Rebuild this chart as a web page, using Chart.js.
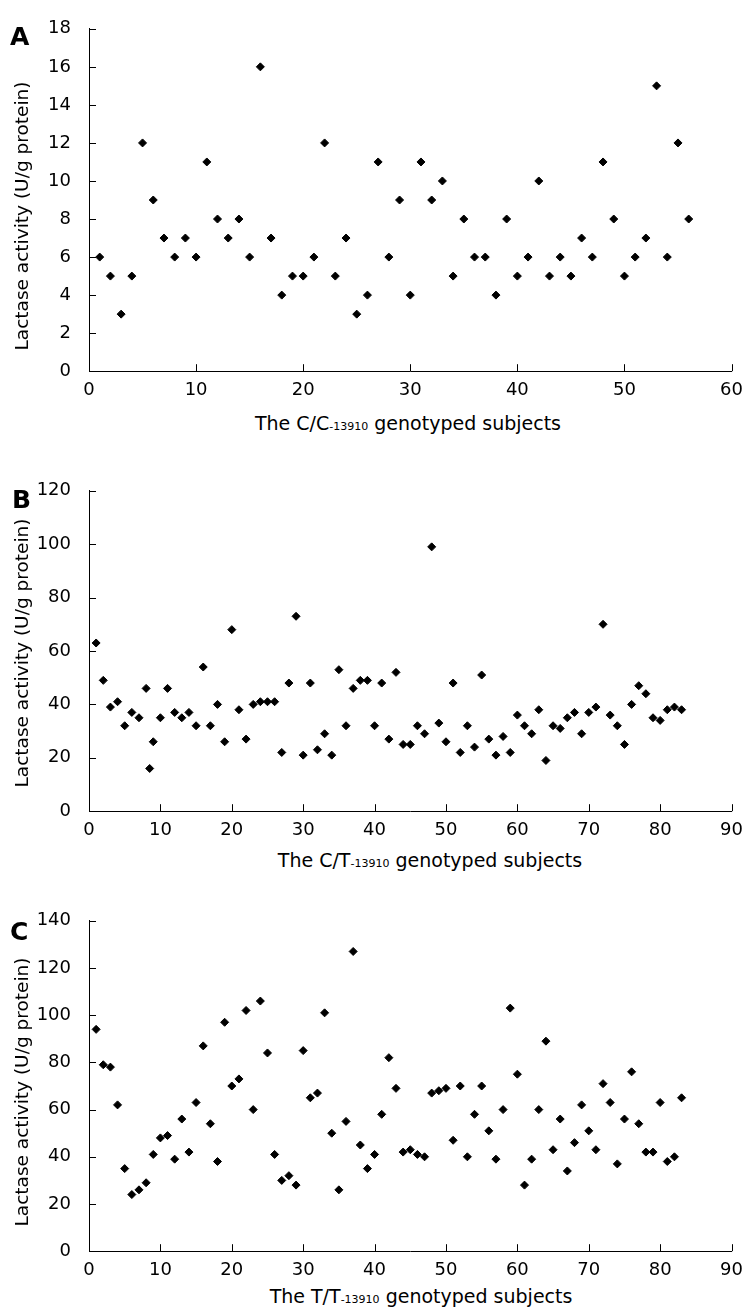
<!DOCTYPE html>
<html lang="en">
<head>
    <meta charset="UTF-8">
    <title>Lactase activity by LCT-13910 genotype</title>
    <script src="https://cdn.jsdelivr.net/npm/chart.js"></script>
    <style>
        body { margin: 0; background: #fff; }
        #page { position: relative; width: 751px; height: 1313px; font-family: "DejaVu Sans", sans-serif; color: #000; }
        canvas { position: absolute; left: 0; }
        .letter { position: absolute; font-weight: bold; font-size: 25px; line-height: 25px; }
        .ytitle { position: absolute; left: 22px; font-size: 18.5px; line-height: 1; white-space: nowrap; transform: translate(-50%, -50%) rotate(-90deg); }
        .xtitle { position: absolute; font-size: 19px; line-height: 19px; white-space: nowrap; transform: translateX(-50%); }
        .xtitle span { font-size: 11px; }
    </style>
</head>
<body>
<div id="page">
    <canvas id="chartA" width="751" height="400" style="top:0px"></canvas>
    <canvas id="chartB" width="751" height="378" style="top:462px"></canvas>
    <canvas id="chartC" width="751" height="388" style="top:892px"></canvas>

    <div class="letter" style="left:10px; top:24px">A</div>
    <div class="letter" style="left:12px; top:487px">B</div>
    <div class="letter" style="left:10px; top:919px">C</div>

    <div class="ytitle" style="top:216px">Lactase activity (U/g protein)</div>
    <div class="ytitle" style="top:653px">Lactase activity (U/g protein)</div>
    <div class="ytitle" style="top:1092px">Lactase activity (U/g protein)</div>

    <div class="xtitle" style="left:408px; top:414px">The C/C<span>-13910</span> genotyped subjects</div>
    <div class="xtitle" style="left:430px; top:851px">The C/T<span>-13910</span> genotyped subjects</div>
    <div class="xtitle" style="left:421px; top:1287px">The T/T<span>-13910</span> genotyped subjects</div>
</div>

<script>
    // panel A: C/C-13910 subjects
    const subjectsA = [1,2,3,4,5,6,7,8,9,10,11,12,13,14,15,16,17,18,19,20,21,22,23,24,25,26,27,28,29,30,
        31,32,33,34,35,36,37,38,39,40,41,42,43,44,45,46,47,48,49,50,51,52,53,54,55,56];
    const activityA = [6,5,3,5,12,9,7,6,7,6, 11,8,7,8,6,16,7,4,5,5, 6,12,5,7,3,4,11,6,9,4,
        11,9,10,5,8,6,6,4,8,5, 6,10,5,6,5,7,6,11,8,5, 6,7,15,6,12,8];

    // panel B: C/T-13910 subjects (two points sit between 8 and 10)
    const subjectsB = [1,2,3,4,5,6,7,8,8.5,9,10,11,12,13,14,15,16,17,18,19,20,21,22,23,24,25,26,27,28,29,30,
        31,32,33,34,35,36,37,38,39,40,41,42,43,44,45,46,47,48,49,50,51,52,53,54,55,56,57,58,59,60,
        61,62,63,64,65,66,67,68,69,70,71,72,73,74,75,76,77,78,79,80,81,82,83];
    const activityB = [63,49,39,41,32,37,35,46,16,26, 35,46,37,35,37,32,54,32,40,26, 68,38,27,40,41,41,41,22,48,73,
        21,48,23,29,21,53,32,46,49,49, 32,48,27,52,25,25,32,29,99,33, 26,48,22,32,24,51,27,21,28,22,
        36,32,29,38,19,32,31,35,37,29, 37,39,70,36,32,25,40,47,44,35, 34,38,39,38];

    // panel C: T/T-13910 subjects
    const subjectsC = [1,2,3,4,5,6,7,8,9,10,11,12,13,14,15,16,17,18,19,20,21,22,23,24,25,26,27,28,29,30,
        31,32,33,34,35,36,37,38,39,40,41,42,43,44,45,46,47,48,49,50,51,52,53,54,55,56,57,58,59,60,
        61,62,63,64,65,66,67,68,69,70,71,72,73,74,75,76,77,78,79,80,81,82,83];
    const activityC = [94,79,78,62,35,24,26,29,41,48, 49,39,56,42,63,87,54,38,97,70, 73,102,60,106,84,41,30,32,28,85,
        65,67,101,50,26,55,127,45,35,41, 58,82,69,42,43,41,40,67,68,69, 47,70,40,58,70,51,39,60,103,75,
        28,39,60,89,43,56,34,46,62,51, 43,71,63,37,56,76,54,42,42,63, 38,40,65];

    const tickFont = { family: 'DejaVu Sans', size: 18 };

    // tick marks point into the plot, like the original figure
    const innerTicks = {
        id: 'innerTicks',
        afterDraw(chart) {
            const { ctx, chartArea, scales } = chart;
            ctx.save();
            ctx.strokeStyle = '#000';
            ctx.lineWidth = 1;
            ctx.beginPath();
            scales.x.ticks.forEach(t => {
                const px = Math.round(scales.x.getPixelForValue(t.value)) + 0.5;
                ctx.moveTo(px, chartArea.bottom);
                ctx.lineTo(px, chartArea.bottom - 7);
            });
            scales.y.ticks.forEach(t => {
                const py = Math.round(scales.y.getPixelForValue(t.value)) + 0.5;
                ctx.moveTo(chartArea.left, py);
                ctx.lineTo(chartArea.left + 7, py);
            });
            ctx.stroke();
            ctx.restore();
        }
    };

    function makePanel(id, xs, ys, xMax, yMax, yStep, padRight) {
        const points = xs.map((x, i) => ({ x: x, y: ys[i] }));
        return new Chart(document.getElementById(id), {
            type: 'scatter',
            data: {
                datasets: [{
                    data: points,
                    backgroundColor: '#000',
                    borderColor: '#000',
                    borderWidth: 1,
                    pointStyle: 'rectRot',
                    pointRadius: 4,
                    pointHoverRadius: 4
                }]
            },
            options: {
                responsive: false,
                animation: false,
                layout: { padding: { top: 26, right: padRight, bottom: 0, left: 0 } },
                plugins: { legend: { display: false }, tooltip: { enabled: false } },
                scales: {
                    x: {
                        type: 'linear',
                        min: 0,
                        max: xMax,
                        ticks: { stepSize: 10, padding: 8, color: '#000', font: tickFont, maxRotation: 0 },
                        grid: { drawOnChartArea: false, drawTicks: false },
                        border: { color: '#000', width: 1 },
                        afterFit: s => { s.height = 26; }
                    },
                    y: {
                        min: 0,
                        max: yMax,
                        ticks: { stepSize: yStep, padding: 18, color: '#000', font: tickFont },
                        grid: { drawOnChartArea: false, drawTicks: false },
                        border: { color: '#000', width: 1 },
                        afterFit: s => { s.width = 89; }
                    }
                }
            },
            plugins: [innerTicks]
        });
    }

    makePanel('chartA', subjectsA, activityA, 60, 18, 2, 12);
    makePanel('chartB', subjectsB, activityB, 90, 120, 20, 11);
    makePanel('chartC', subjectsC, activityC, 90, 140, 20, 13);
</script>
</body>
</html>
